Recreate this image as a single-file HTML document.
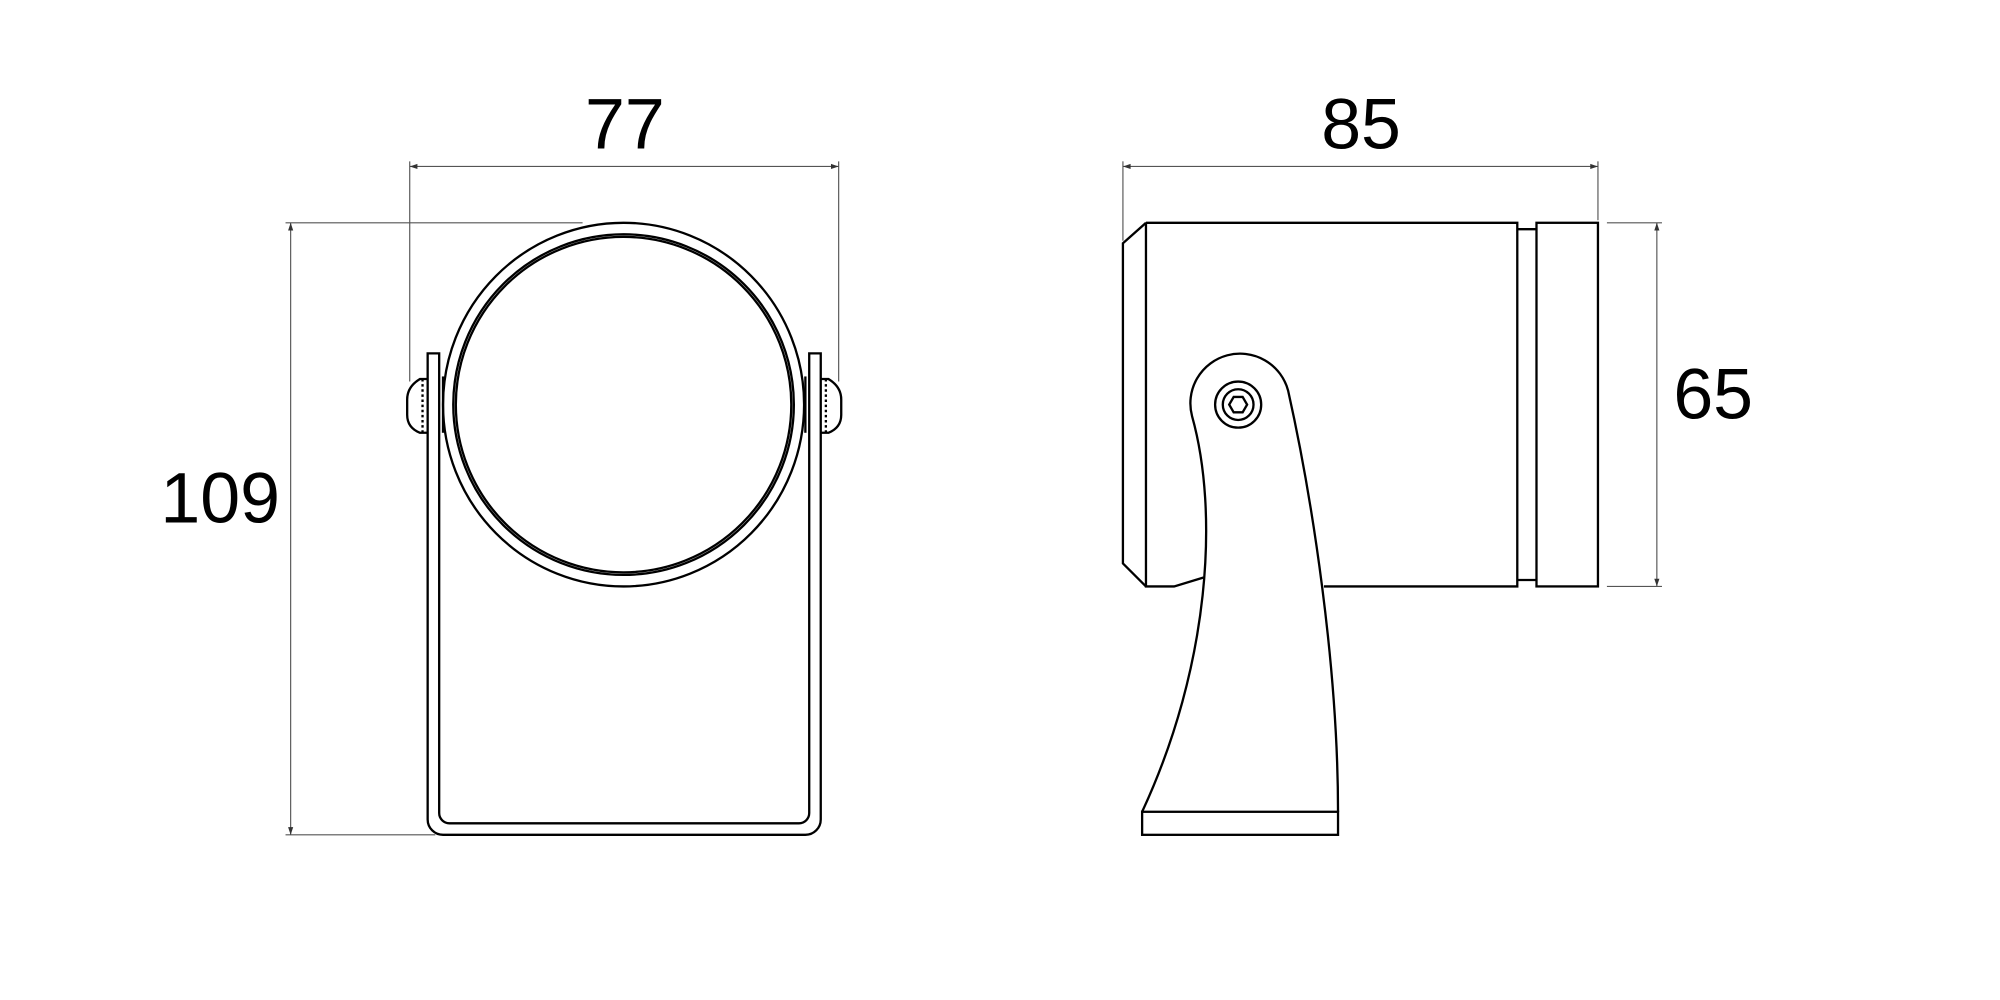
<!DOCTYPE html>
<html><head><style>html,body{margin:0;padding:0;background:#fff}svg{display:block}</style></head>
<body>
<svg width="2000" height="1000" viewBox="0 0 1562 781" preserveAspectRatio="none" xmlns="http://www.w3.org/2000/svg">
<rect width="1562" height="781" fill="#fff"/>
<g font-family="Liberation Sans, sans-serif" font-size="56" fill="#000" text-anchor="middle">
<text x="488" y="116">77</text>
<text x="1063" y="116">85</text>
<text x="172" y="408">109</text>
<text x="1338" y="327">65</text>
</g>
<g stroke="#555" stroke-width="0.9" fill="none">
<line x1="320" y1="130" x2="655" y2="130"/>
<line x1="320" y1="126" x2="320" y2="298"/>
<line x1="655" y1="126" x2="655" y2="298"/>
<line x1="227" y1="174" x2="227" y2="652"/>
<line x1="223" y1="174" x2="455" y2="174"/>
<line x1="223" y1="652" x2="340" y2="652"/>
<line x1="877" y1="130" x2="1248" y2="130"/>
<line x1="877" y1="126" x2="877" y2="188"/>
<line x1="1248" y1="126" x2="1248" y2="172"/>
<line x1="1294" y1="174" x2="1294" y2="458"/>
<line x1="1255" y1="174" x2="1298" y2="174"/>
<line x1="1255" y1="458" x2="1298" y2="458"/>
</g>
<g fill="#333">
<path d="M320,130 l6,-2 v4z M655,130 l-6,-2 v4z M877,130 l6,-2 v4z M1248,130 l-6,-2 v4z"/>
<path d="M227,174 l-2,6 h4z M227,652 l-2,-6 h4z M1294,174 l-2,6 h4z M1294,458 l-2,-6 h4z"/>
</g>
<g stroke="#000" stroke-width="1.8" fill="none">
<ellipse cx="487" cy="316" rx="141" ry="142"/>
<ellipse cx="487" cy="316" rx="133" ry="133"/>
<ellipse cx="487" cy="316" rx="131" ry="131"/>
<path d="M334,276 V640 A12,12 0 0 0 346,652 H629 A12,12 0 0 0 641,640 V276 H632 V635 A8,8 0 0 1 624,643 H351 A8,8 0 0 1 343,635 V276 Z" fill="#fff"/>
<path d="M334,296 H328 Q318,302 318,312 V324 Q318,334 328,338 H334"/>
<path d="M641,296 H647 Q657,302 657,312 V324 Q657,334 647,338 H641"/>
<line x1="330" y1="296" x2="330" y2="338" stroke-dasharray="2,2"/>
<line x1="645" y1="296" x2="645" y2="338" stroke-dasharray="2,2"/>
<line x1="346" y1="294" x2="346" y2="338"/>
<line x1="629" y1="294" x2="629" y2="338"/>
<path d="M895,174 H1185 V458 H1034"/>
<path d="M940,451 L917,458 H895 V174"/>
<path d="M895,174 L877,190 V440 L895,458"/>
<path d="M1185,179 H1200 M1185,453 H1200"/>
<rect x="1200" y="174" width="48" height="284"/>
<path d="M892,634 C945,520 952,400 931,325 A38,38 0 1 1 1006,305 C1025,390 1045,520 1045,634"/>
<rect x="892" y="634" width="153" height="18"/>
<circle cx="967" cy="316" r="18"/>
<circle cx="967" cy="316" r="12"/>
<path d="M960,316 l3.5,-6 h7 l3.5,6 l-3.5,6 h-7z"/>
</g>
</svg>
</body></html>
